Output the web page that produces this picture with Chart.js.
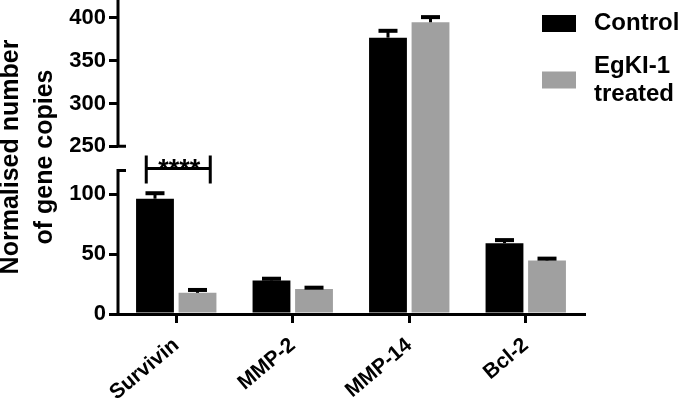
<!DOCTYPE html>
<html>
<head>
<meta charset="utf-8">
<script src="https://cdn.jsdelivr.net/npm/chart.js@4.4.1/dist/chart.umd.min.js"></script>
<style>
  html, body { margin: 0; padding: 0; background: #fff; }
</style>
</head>
<body>
<canvas id="chart" width="685" height="411"></canvas>
<script>
// data
const genes = ['Survivin', 'MMP-2', 'MMP-14', 'Bcl-2'];
const controlValues = [96.4, 28, 377, 59.2];
const controlErrors = [4.6, 1.5, 8, 2.6];
const treatedValues = [17.7, 21, 395, 44.8];
const treatedErrors = [2.4, 1, 6, 1.5];
const seriesNames = ['Control', 'EgKI-1 treated'];
const yTickValues = [0, 50, 100, 250, 300, 350, 400];
const significanceLabel = '****';

// broken axis: 0-120 below the gap, 250-421 above it
const yLowMax = 120, yHighMin = 250, yMax = 421;
const lowFrac = 0.457, highFrac = 0.534; // share of axis height for each segment

const FONT = "'Liberation Sans', Arial, Helvetica, sans-serif";
Chart.defaults.font.family = FONT;
Chart.defaults.color = '#000';

class BrokenLinearScale extends Chart.LinearScale {
  static id = 'brokenLinear';
  static defaults = Chart.LinearScale.defaults;

  buildTicks() {
    super.buildTicks();
    return yTickValues.map(v => ({ value: v }));
  }
  getPixelForValue(value) {
    let frac;
    if (value <= yLowMax) frac = (value / yLowMax) * lowFrac;
    else if (value >= yHighMin) frac = highFrac + (value - yHighMin) / (yMax - yHighMin) * (1 - highFrac);
    else frac = lowFrac + (value - yLowMax) / (yHighMin - yLowMax) * (highFrac - lowFrac);
    return this.getPixelForDecimal(frac);
  }
  getValueForPixel(pixel) {
    const d = this.getDecimalForPixel(pixel);
    if (d <= lowFrac) return d / lowFrac * yLowMax;
    if (d >= highFrac) return yHighMin + (d - highFrac) / (1 - highFrac) * (yMax - yHighMin);
    return yLowMax + (d - lowFrac) / (highFrac - lowFrac) * (yHighMin - yLowMax);
  }
}
Chart.register(BrokenLinearScale);

// y axis line with the break
const brokenAxis = {
  id: 'brokenAxis',
  afterDraw(chart) {
    const { ctx, chartArea, scales: { y } } = chart;
    const ax = chartArea.left;
    const yLow = y.getPixelForValue(yLowMax);
    const yHigh = y.getPixelForValue(yHighMin);
    ctx.save();
    ctx.strokeStyle = '#000';
    ctx.lineWidth = 3;
    ctx.beginPath();
    ctx.moveTo(ax, y.getPixelForValue(0) + 1.5);
    ctx.lineTo(ax, yLow);
    ctx.moveTo(ax, yHigh);
    ctx.lineTo(ax, chartArea.top);
    ctx.moveTo(ax - 1.5, yLow);
    ctx.lineTo(ax + 8, yLow);
    ctx.moveTo(ax - 1.5, yHigh);
    ctx.lineTo(ax + 8, yHigh);
    ctx.stroke();
    ctx.restore();
  }
};

const errorBars = {
  id: 'errorBars',
  afterDatasetsDraw(chart) {
    const { ctx, scales: { y } } = chart;
    ctx.save();
    ctx.strokeStyle = '#000';
    chart.data.datasets.forEach((ds, i) => {
      chart.getDatasetMeta(i).data.forEach((bar, j) => {
        const top = y.getPixelForValue(ds.data[j] + ds.errors[j]);
        ctx.lineWidth = 3;
        ctx.beginPath();
        ctx.moveTo(bar.x, bar.y);
        ctx.lineTo(bar.x, top);
        ctx.stroke();
        ctx.lineWidth = 4;
        ctx.beginPath();
        ctx.moveTo(bar.x - 9.5, top);
        ctx.lineTo(bar.x + 9.5, top);
        ctx.stroke();
      });
    });
    ctx.restore();
  }
};

// **** bracket over Survivin
const significance = {
  id: 'significance',
  afterDraw(chart) {
    const { ctx, scales: { x, y } } = chart;
    const xc = x.getPixelForValue(0);
    const x1 = xc - 30, x2 = xc + 34;
    const base = y.getPixelForValue(yLowMax);
    const ly = base - 2;
    ctx.save();
    ctx.strokeStyle = '#000';
    ctx.lineWidth = 3;
    ctx.beginPath();
    ctx.moveTo(x1, ly);
    ctx.lineTo(x2, ly);
    ctx.moveTo(x1, base - 15);
    ctx.lineTo(x1, base + 13);
    ctx.moveTo(x2, base - 15);
    ctx.lineTo(x2, base + 13);
    ctx.stroke();
    ctx.fillStyle = '#000';
    ctx.font = `bold 27px ${FONT}`;
    ctx.textAlign = 'center';
    ctx.textBaseline = 'alphabetic';
    ctx.fillText(significanceLabel, (x1 + x2) / 2 + 1, ly + 9);
    ctx.restore();
  }
};

const sideLegend = {
  id: 'sideLegend',
  afterDraw(chart) {
    const { ctx } = chart;
    ctx.save();
    ctx.font = `bold 24px ${FONT}`;
    ctx.textAlign = 'left';
    ctx.textBaseline = 'middle';
    chart.data.datasets.forEach((ds, i) => {
      const cy = 23.5 + i * 56.5;
      ctx.fillStyle = ds.backgroundColor;
      ctx.fillRect(542, cy - 8.5, 34, 17);
      const lines = ds.label.split(' ');
      ctx.fillStyle = '#000';
      lines.forEach((t, k) => {
        ctx.fillText(t, 594, cy + (k - (lines.length - 1) / 2) * 28);
      });
    });
    ctx.restore();
  }
};

new Chart(document.getElementById('chart'), {
  type: 'bar',
  data: {
    labels: genes,
    datasets: [
      {
        label: seriesNames[0],
        data: controlValues,
        errors: controlErrors,
        backgroundColor: '#000000',
        borderWidth: 0,
        barPercentage: 0.89,
        categoryPercentage: 0.73
      },
      {
        label: seriesNames[1],
        data: treatedValues,
        errors: treatedErrors,
        backgroundColor: '#a0a0a0',
        borderWidth: 0,
        barPercentage: 0.89,
        categoryPercentage: 0.73
      }
    ]
  },
  options: {
    responsive: false,
    animation: false,
    devicePixelRatio: 1,
    layout: { padding: { left: 0, right: 101, top: 0, bottom: 0 } },
    scales: {
      x: {
        type: 'category',
        offset: true,
        grid: { display: true, drawOnChartArea: false, drawTicks: true, tickLength: 9, lineWidth: 3, color: '#000', offset: false },
        border: { display: true, color: '#000', width: 3 },
        ticks: { font: { size: 21, weight: 'bold' }, color: '#000', minRotation: 40, maxRotation: 40, padding: 10 },
        afterFit: s => { s.height = 97; s.paddingLeft = 0; s.paddingRight = 0; }
      },
      y: {
        type: 'brokenLinear',
        min: 0,
        max: yMax,
        grid: { drawOnChartArea: false, drawTicks: true, tickLength: 9, lineWidth: 3, color: '#000' },
        border: { display: false },
        ticks: { font: { size: 22, weight: 'bold' }, color: '#000', padding: 3, autoSkip: false },
        title: {
          display: true,
          text: ['Normalised number', 'of gene copies'],
          font: { size: 25, weight: 'bold', lineHeight: 1.36 },
          padding: { top: -6, bottom: 0 },
          color: '#000'
        },
        afterFit: s => { s.width = 118; s.paddingTop = 0; s.paddingBottom = 0; }
      }
    },
    plugins: {
      legend: { display: false },
      tooltip: { enabled: false }
    }
  },
  plugins: [brokenAxis, errorBars, significance, sideLegend]
});
</script>
</body>
</html>
